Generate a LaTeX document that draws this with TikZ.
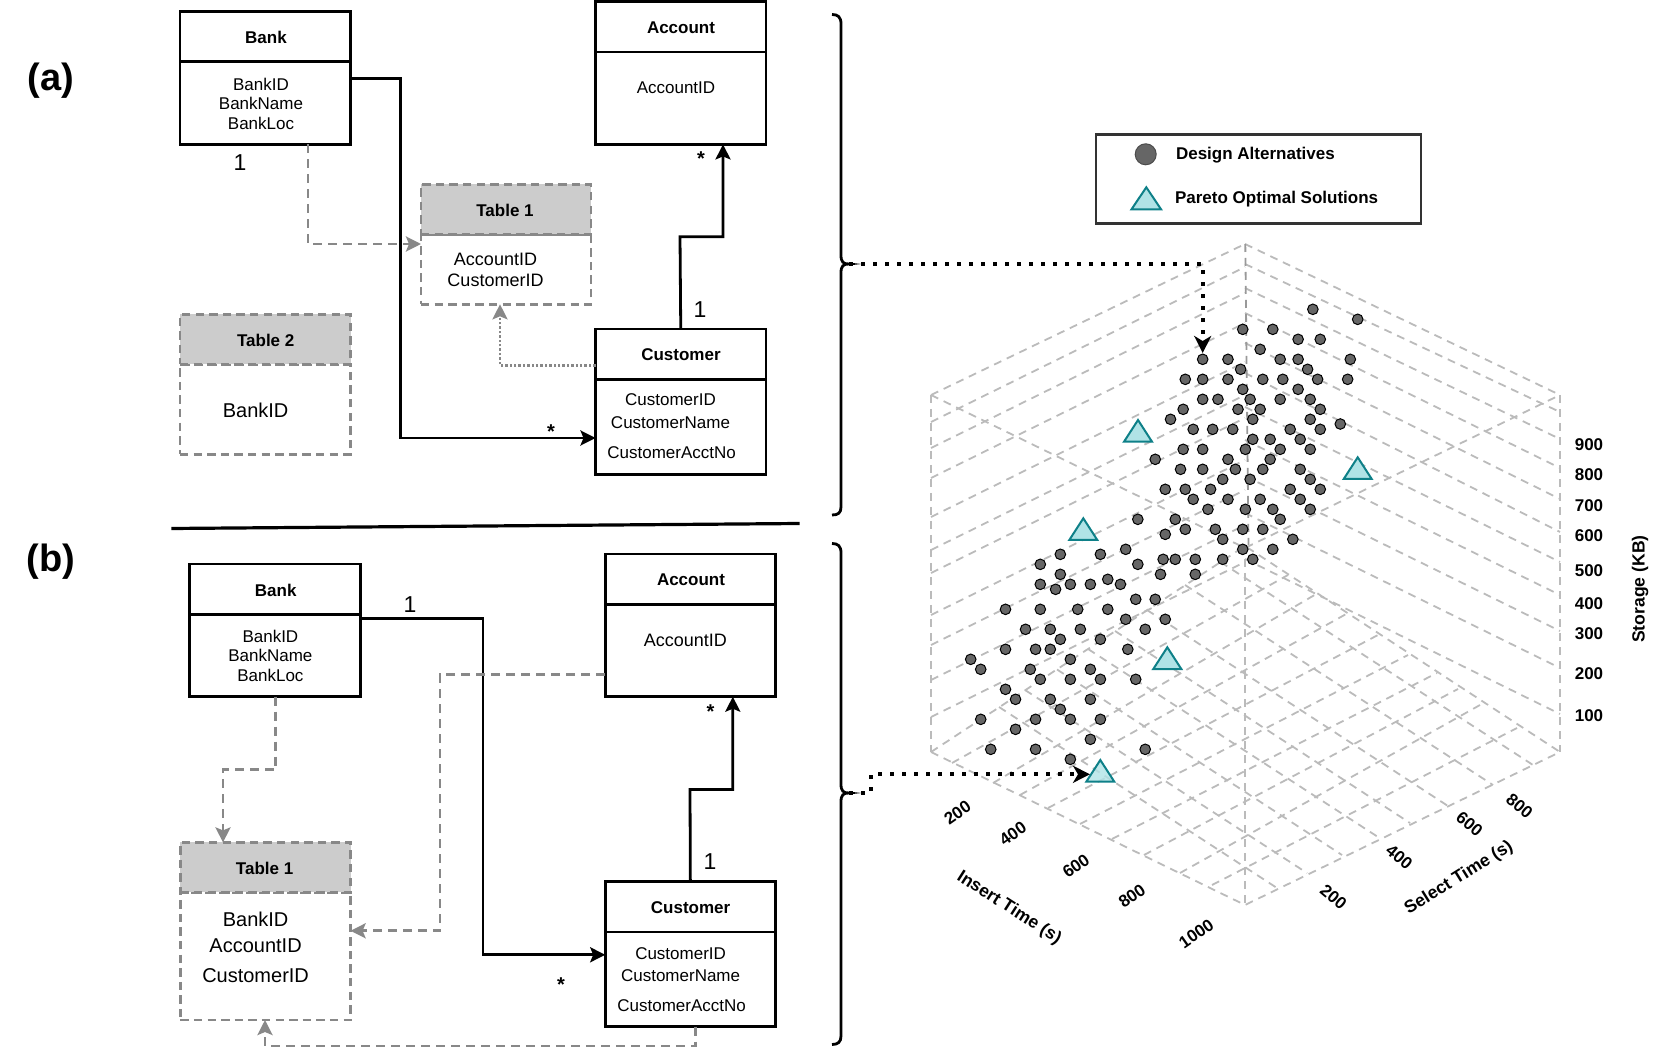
\documentclass[tikz,border=0pt]{standalone}
\usepackage{fontspec}
\setmainfont{Liberation Sans}
\usetikzlibrary{arrows.meta}
\definecolor{gridc}{HTML}{BBBBBB}
\definecolor{midc}{HTML}{999999}
\definecolor{gconnc}{HTML}{888888}
\definecolor{headc}{HTML}{CCCCCC}
\definecolor{dotc}{HTML}{666666}
\definecolor{tealf}{HTML}{B0E3E6}
\definecolor{teald}{HTML}{0E8088}
\newcommand{\umlpair}[7]{%
 \node[#7,anchor=north west,minimum width={(#3-#2)*0.5pt},minimum height={(#5-#4)*0.5pt}] (#1h) at (#2,#4) {};
 \node[#7,anchor=north west,minimum width={(#3-#2)*0.5pt},minimum height={(#6-#5)*0.5pt}] (#1b) at (#2,#5) {};}
\newcommand{\pareto}[3]{\draw[pareto] (#1-14,#3) -- (#1,#2) -- (#1+14,#3) -- cycle;}
\tikzset{
 umlbox/.style={draw=black,line width=1.4pt,inner sep=0pt,outer sep=0pt,fill=white},
 tablebody/.style={draw=gconnc,line width=1.4pt,dash pattern=on 4.2pt off 2.6pt,inner sep=0pt,outer sep=0pt},
 tablehead/.style={tablebody,fill=headc},
 gridline/.style={draw=gridc,line width=0.9pt,dash pattern=on 4pt off 3pt},
 conn/.style={draw=black,line width=1.4pt,-{Stealth[length=7.5pt,width=7.5pt,inset=1.5pt]}},
 gconn/.style={draw=gconnc,line width=1.4pt,dash pattern=on 4.5pt off 3pt,-{Stealth[length=7.5pt,width=7.5pt,inset=1.5pt]}},
 gdot/.style={draw=gconnc,line width=1.4pt,dash pattern=on 1.2pt off 1pt,-{Stealth[length=7.5pt,width=7.5pt,inset=1.5pt]}},
 bdot/.style={draw=black,line width=1.85pt,dash pattern=on 1.85pt off 4.15pt,-{Stealth[length=8.5pt,width=8.5pt,inset=2.5pt]}},
 brace/.style={draw=black,line width=1.4pt},
 pareto/.style={draw=teald,fill=tealf,line width=1pt,line join=miter},
 scat/.style={draw=black,fill=dotc,line width=0.5pt},
 nudge/.style={inner sep=0pt,xshift=0.5pt,yshift=-0.5pt},
 tx/.style={nudge,font=\fontsize{8.5pt}{10pt}\selectfont},
 txn/.style={nudge,font=\fontsize{9pt}{10pt}\selectfont},
 txl/.style={nudge,font=\fontsize{10pt}{12pt}\selectfont},
 txb/.style={nudge,font=\fontsize{8.5pt}{10pt}\selectfont\bfseries},
 txa/.style={inner sep=0pt,font=\fontsize{8.8pt}{10pt}\selectfont\bfseries},
 one/.style={nudge,font=\fontsize{11.5pt}{12pt}\selectfont},
 star/.style={nudge,font=\fontsize{10pt}{12pt}\selectfont\bfseries},
 panel/.style={nudge,font=\fontsize{19pt}{22pt}\selectfont\bfseries},
}
\begin{document}
\begin{tikzpicture}[x=0.5pt,y=-0.5pt]
\useasboundingbox (0,0) rectangle (1654,1058);
% ---------- grid
\foreach \l/\c in {395/244,422/267,448/293,478/323,517/362,550/395,573/418,615/460,645/490,680/525,717/562}
  \draw[gridline] (931,\l) -- (1245,\c);
\foreach \c/\r in {244/395,264/412,288/439,313/468,343/499,373/532,407/562,440/595,476/631,513/668,559/714}
  \draw[gridline] (1245,\c) -- (1560,\r);
\draw[gridline] (931,395) -- (931,752);
\draw[gridline] (1560,395) -- (1560,752);
\draw[gridline] (931,395) -- (1245,548) -- (1560,395);
\draw[gridline] (931,752) -- (1245,905) -- (1560,752);
\draw[gridline] (931,752) -- (1245,546) -- (1560,752);
\foreach \a/\b/\c/\d in {952/763/1288/575,993/783/1318/593,1020/795/1348/613,1048/808/1378/635,1080/824/1408/655,1112/839/1437/673,1144/855/1458/689,1180/873/1480/705,1212/885/1517/728}
  \draw[gridline] (\a,\b) -- (\c,\d);
\foreach \a/\b/\c/\d in {1220.5/562/1533/765,1185/585/1493/785,1147/610/1448/806,1115/631/1410/823,1088/649/1378/837,1057/669.5/1342/855,1025/690/1307/873,999/707/1277/888}
  \draw[gridline] (\a,\b) -- (\c,\d);
\draw[gridline] (1245,545) -- (1245,905);
\draw[gridline,draw=midc] (1245.3,244) -- (1248.5,545);
% ---------- scatter
\foreach \a/\b in {921/568,1006/598,788/628,845/628,893/658,935/658,821/688,712/718,760/718,859/718,893/718,992/718,784/748,911/748,679/778,712/778,760/778,826/778,864/778,930/778,987/778,788/808,893/808,712/838,741/838,802/838,859/838,916/838,675/868,779/868,821/868,935/868,651/898,807/898,916/898,973/912,694/928,731/928,769/928,878/928,935/928,807/958,840/958,897/958,675/988,712/988,793/988,859/988,916/988,622/1018,760/1018,840/1018,670/1048,712/1048,774/1048,826/1048,897/1048,750/1078,802/1078,916/1078,641/1108,679/1108,727/1108,878/1108,935/1108,694/1138,760/1138,821/1138,897/1138,722/1168,793/1168,845/1168,916/1168,589/1198,660/1198,859/1198,679/1228,736/1228,788/1228,826/1228,641/1243,750/1258,883/1258,442/1303,518/1303,566/1288,788/1288,845/1288,404/1333,589/1333,637/1318,660/1318,698/1318,750/1318,807/1318}
  \draw[scat] ({827.3+\a*0.5272},{120+\b/3}) circle[radius=5.3];
\foreach \a/\b in {442/103,632/103,698/103,404/133,433/148,461/133,499/133,532/118,556/133,585/178,622/178,338/208,404/208,475/208,532/208,566/238,641/238,376/268,423/268,480/268,603/268,442/298,518/298,338/328,395/328,423/328,570/328,272/358,461/358,291/388,385/388,499/388,404/418,461/418,518/418,585/418,338/448,357/478,423/478,499/478,442/508,291/538,395/538,461/538,518/538,357/568,499/598,310/628,395/628,603/628,461/658}
  \draw[scat] ({827.3+\a*0.5272},{540+\b/3}) circle[radius=5.3];
\pareto{1138}{420}{441.7}
\pareto{1083.3}{518.3}{540}
\pareto{1357.7}{457.3}{479}
\pareto{1167.3}{647.3}{669}
\draw[pareto,fill opacity=0.8] (1086.3,781.7) -- (1100.3,760) -- (1114.3,781.7) -- cycle;
% ---------- legend
\node[draw=black!80,line width=1.1pt,fill=white,anchor=north west,inner sep=0pt,minimum width=162.5pt,minimum height=44.5pt] (legend) at (1095,133.5) {};
\draw[draw=black!70,fill=dotc,line width=0.5pt] (1145.7,154.3) circle[radius=10.5];
\draw[pareto] (1131.5,209.3) -- (1146.3,187.3) -- (1161,209.3) -- cycle;
\node[txb] (lg1) at (1254.4,154.5) {Design Alternatives};
\node[txb] (lg2) at (1275.6,197.8) {Pareto Optimal Solutions};
% ---------- axis labels
\foreach \t/\y in {900/443.3,800/473.3,700/505,600/535,500/570,400/603,300/632.7,200/673,100/715}
  \node[txb] at (1588,\y) {\t};
\node[txa,rotate=90] (storage) at (1640,589) {Storage (KB)};
\foreach \t/\a/\b in {200/956.5/811.7,400/1011.8/832.7,600/1075/865,800/1131/895,1000/1195.3/932.7}
  \node[txb,rotate=35] at (\a,\b) {\t};
\foreach \t/\a/\b in {200/1332.4/895.7,400/1398.3/855.7,600/1468.4/823.3,800/1518.5/805}
  \node[txb,rotate=-40] at (\a,\b) {\t};
\node[txa,rotate=32] (selt) at (1459,878) {Select Time (s)};
\node[txa,rotate=-32.7] (inst) at (1009,908) {Insert Time (s)};
% ---------- panel (a)
\node[panel] (pa) at (50,80) {(a)};
\umlpair{bankA}{180}{350.6}{11.8}{61.7}{144.4}{umlbox}
\umlpair{acctA}{595.5}{766}{1.7}{52}{144.4}{umlbox}
\umlpair{tabA}{421}{591}{184.2}{234.5}{304.3}{tablebody}
\node[tablehead,anchor=north west,minimum width=85pt,minimum height=25.15pt] (tabAhh) at (421,184.2) {};
\umlpair{tabB}{180}{350.6}{314.4}{364.4}{454.5}{tablebody}
\node[tablehead,anchor=north west,minimum width=85.3pt,minimum height=25pt] (tabBhh) at (180,314.4) {};
\umlpair{custA}{595.5}{766}{329}{379.2}{474.4}{umlbox}
\node[txb] (n1) at (265,36.4) {Bank};
\node[tx] (n2) at (260,83) {BankID};
\node[tx] (n3) at (260,102) {BankName};
\node[tx] (n4) at (260,122) {BankLoc};
\node[txb] (n5) at (680,27) {Account};
\node[tx] (n6) at (675,87) {AccountID};
\node[txb] (n7) at (504,209) {Table 1};
\node[txn] (n8) at (494.5,258.8) {AccountID};
\node[txn] (n9) at (494.5,279.4) {CustomerID};
\node[txb] (n10) at (264.7,339) {Table 2};
\node[txl] (n11) at (254.6,409) {BankID};
\node[txb] (n12) at (680,354) {Customer};
\node[tx] (n13) at (669.5,399) {CustomerID};
\node[tx] (n14) at (669.5,421.7) {CustomerName};
\node[tx] (n15) at (670.6,451.4) {CustomerAcctNo};
\coordinate (a1) at (400.7,78.3);
\coordinate (a2) at (400.7,438);
\draw[conn] (a1 -| bankAb.east) -- (a1) -- (a2) -- (a2 -| custAb.west);
\coordinate (a3) at (680,236.8);
\coordinate (a4) at (723,236.8);
\draw[conn] (custAh.north) -- (a3) -- (a4) -- (a4 |- acctAb.south);
\coordinate (a5) at (308,244);
\draw[gconn] (a5 |- bankAb.south) -- (a5) -- (a5 -| tabAb.west);
\coordinate (a6) at (500,365.4);
\draw[gdot] (a6 -| custAh.west) -- (a6) -- (a6 |- tabAb.south);
\node[one] (o1) at (239,162) {1};
\node[star] (s1) at (700,158) {*};
\node[one] (o2) at (699,309) {1};
\node[star] (s2) at (550,431) {*};
% ---------- rule
\node[inner sep=0pt,minimum size=0pt] (rl) at (171,528.5) {};
\node[inner sep=0pt,minimum size=0pt] (rr) at (800,523.5) {};
\draw[black,line width=1.6pt] (rl) -- (rr);
% ---------- panel (b)
\node[panel] (pb) at (50,561) {(b)};
\umlpair{bankB}{189.8}{360.6}{564}{614.7}{696.7}{umlbox}
\umlpair{acctB}{605.2}{775.5}{554}{604.6}{696.7}{umlbox}
\umlpair{tabC}{180.3}{350.6}{842.4}{892.4}{1020}{tablebody}
\node[tablehead,anchor=north west,minimum width=85.15pt,minimum height=25pt] (tabChh) at (180.3,842.4) {};
\umlpair{custB}{605.2}{775.5}{881.6}{931.9}{1026.6}{umlbox}
\node[txb] (m1) at (274.7,589) {Bank};
\node[tx] (m2) at (269.4,635) {BankID};
\node[tx] (m3) at (269.4,654.5) {BankName};
\node[tx] (m4) at (269.4,674.4) {BankLoc};
\node[txb] (m5) at (690,579) {Account};
\node[txn] (m6) at (684.3,639.7) {AccountID};
\node[txb] (m7) at (263.6,867) {Table 1};
\node[txl] (m8) at (254.6,918.7) {BankID};
\node[txl] (m9) at (254.6,944.7) {AccountID};
\node[txl] (m10) at (254.6,975) {CustomerID};
\node[txb] (m11) at (689.6,907) {Customer};
\node[tx] (m12) at (679.6,952.4) {CustomerID};
\node[tx] (m13) at (679.6,974.7) {CustomerName};
\node[tx] (m14) at (680.6,1004.4) {CustomerAcctNo};
\coordinate (b1) at (483,618.4);
\coordinate (b2) at (483,954.8);
\draw[conn] (b1 -| bankBb.east) -- (b1) -- (b2) -- (b2 -| custBb.west);
\coordinate (b3) at (690,789.5);
\coordinate (b4) at (732.8,789.5);
\draw[conn] (custBh.north) -- (b3) -- (b4) -- (b4 |- acctBb.south);
\coordinate (b5) at (440,674.4);
\coordinate (b6) at (440,930.8);
\draw[gconn] (b5 -| acctBb.west) -- (b5) -- (b6) -- (b6 -| tabCb.east);
\coordinate (b7) at (275.7,769.6);
\coordinate (b8) at (223,769.6);
\draw[gconn] (b7 |- bankBb.south) -- (b7) -- (b8) -- (b8 |- tabCh.north);
\coordinate (b9) at (695.4,1046);
\coordinate (b10) at (265,1046);
\draw[gconn] (b9 |- custBb.south) -- (b9) -- (b10) -- (b10 |- tabCb.south);
\node[one] (o3) at (409,604) {1};
\node[star] (s3) at (709.6,711) {*};
\node[one] (o4) at (709,861) {1};
\node[star] (s4) at (560,984) {*};
% ---------- braces
\coordinate (tipA) at (849,264);
\coordinate (tipB) at (849,793);
\draw[brace] (832,14.5) .. controls (838,14.5) and (841,17) .. (841,24) -- (841,255) .. controls (841,262) and (843,264) .. (tipA) .. controls (843,264) and (841,266) .. (841,273) -- (841,507) .. controls (841,513) and (838,515) .. (832,515);
\draw[brace] (832,543.5) .. controls (838,543.5) and (841,546) .. (841,553) -- (841,784) .. controls (841,791) and (843,793) .. (tipB) .. controls (843,793) and (841,795) .. (841,802) -- (841,1036) .. controls (841,1042) and (838,1044.5) .. (832,1044.5);
% ---------- dotted pointers
\coordinate (pa1) at (1202.7,264);
\coordinate (pa2) at (1202.7,353);
\draw[bdot] (tipA) -- (pa1) -- (pa2);
\coordinate (pb1) at (871,793);
\coordinate (pb2) at (871,774.3);
\coordinate (pb3) at (1090,774.3);
\draw[bdot] (tipB) -- (pb1) -- (pb2) -- (pb3);
\end{tikzpicture}
\end{document}
